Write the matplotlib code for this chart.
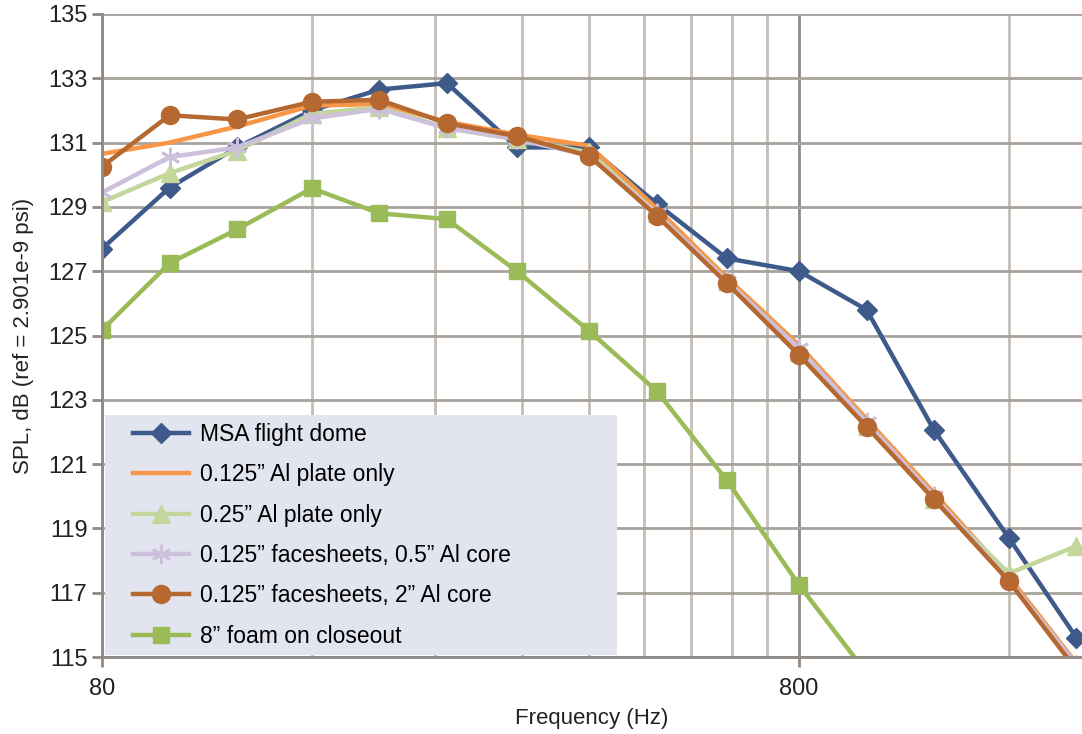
import matplotlib
matplotlib.use("Agg")
import matplotlib.pyplot as plt
from matplotlib.ticker import FixedLocator, NullFormatter
from matplotlib.patches import Rectangle

plt.rcParams['font.family'] = ['Liberation Sans', 'DejaVu Sans']

# third-octave band centres (Hz)
freq = [80, 100, 125, 160, 200, 250, 315, 400, 500, 630, 800, 1000, 1250, 1600, 2000]

msa_dome = [127.7, 129.6, 130.85, 132.0, 132.65, 132.85, 130.85, 130.85, 129.1, 127.4,
            127.0, 125.8, 122.05, 118.7, 115.6]
al_0125 = [130.65, 131.0, 131.5, 132.15, 132.2, 131.65, 131.25, 130.9, 128.95, 126.8,
           124.7, 122.4, 120.1, 117.5, 114.8]
al_025 = [129.15, 130.05, 130.75, 131.9, 132.1, 131.45, 131.1, 130.7, 128.8, 126.7,
          124.5, 122.2, 119.9, 117.6, 118.45]
core_05 = [129.45, 130.55, 130.85, 131.75, 132.05, 131.45, 131.1, 130.6, 128.8, 126.7,
           124.6, 122.3, 120.0, 117.4, 114.75]
core_2 = [130.25, 131.85, 131.72, 132.27, 132.33, 131.6, 131.2, 130.58, 128.72, 126.63,
          124.39, 122.16, 119.9, 117.36, 114.6]
foam = [125.17, 127.25, 128.3, 129.58, 128.8, 128.62, 127.0, 125.14, 123.27, 120.5,
        117.24, 114.5]

labels = ['MSA flight dome',
          '0.125\u201d Al plate only',
          '0.25\u201d Al plate only',
          '0.125\u201d facesheets, 0.5\u201d Al core',
          '0.125\u201d facesheets, 2\u201d Al core',
          '8\u201d foam on closeout']

y_ticks = list(range(115, 136, 2))
x_major = [80, 800]
x_minor = [160, 240, 320, 400, 480, 560, 640, 720, 1600]

fig = plt.figure(figsize=(10.82, 7.34), dpi=100)
ax = fig.add_axes([102 / 1082, 77 / 734, 980 / 1082, 643 / 734])

ax.plot(freq, msa_dome, color='#3e5a8a', lw=3.2, marker='D', ms=10, label=labels[0])
ax.plot(freq, al_0125, color='#f79646', lw=3.2, label=labels[1])
ax.plot(freq, al_025, color='#c3d69b', lw=3.2, marker='^', ms=13, label=labels[2])
ax.plot(freq, core_05, color='#ccc0da', lw=3.2, marker=(6, 2, 0), ms=14, mew=2.0,
        label=labels[3])
ax.plot(freq, core_2, color='#b5682f', lw=3.2, marker='o', ms=13, label=labels[4])
ax.plot(freq[:len(foam)], foam, color='#9bbb59', lw=3.2, marker='s', ms=12, label=labels[5])

ax.set_xscale('log')
ax.set_xlim(80, 2037)
ax.set_ylim(115, 135)

ax.xaxis.set_major_locator(FixedLocator(x_major))
ax.xaxis.set_major_formatter(plt.FixedFormatter([str(v) for v in x_major]))
ax.xaxis.set_minor_locator(FixedLocator(x_minor))
ax.xaxis.set_minor_formatter(NullFormatter())
ax.set_yticks(y_ticks)

ax.grid(True, which='major', axis='x', color='#8e8984', lw=2)
ax.grid(True, which='minor', axis='x', color='#c4beb8', lw=2)
ax.grid(True, which='major', axis='y', color='#a8a29c', lw=2)
ax.set_axisbelow(True)

for s in ['top', 'right']:
    ax.spines[s].set_visible(False)
for s in ['left', 'bottom']:
    ax.spines[s].set_color('#8e8984')
    ax.spines[s].set_linewidth(2)

ax.tick_params(axis='both', which='major', labelsize=17, color='#8e8984', width=2,
               length=7, labelcolor='#222222')
ax.tick_params(axis='x', which='minor', length=0)
ax.tick_params(axis='x', which='major', pad=8)

ax.set_xlabel('Frequency (Hz)', fontsize=16, color='#222222', labelpad=6)
ax.set_ylabel('SPL, dB (ref = 2.901e-9 psi)', fontsize=16, color='#222222', labelpad=10)

# legend background box
ax.add_patch(Rectangle((0.003, 0.003), 0.522, 0.373, transform=ax.transAxes,
                       facecolor='#e2e5ef', edgecolor='none', zorder=5))
leg = ax.legend(loc='lower left', bbox_to_anchor=(0.022, 0.0), frameon=False,
                fontsize=16.5, handlelength=2.45, handletextpad=0.5, labelspacing=0.76,
                borderaxespad=0)
leg.set_zorder(6)

fig.savefig('out.png', dpi=100)
